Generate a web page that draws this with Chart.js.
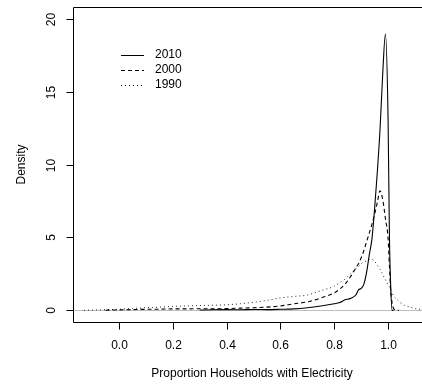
<!DOCTYPE html>
<html>
<head>
<meta charset="utf-8">
<script src="https://cdn.jsdelivr.net/npm/chart.js@4.4.0/dist/chart.umd.min.js"></script>
<style>
    html, body { margin: 0; padding: 0; background: #ffffff; }
    #wrap { width: 422px; height: 385px; }
</style>
</head>
<body>
<div id="wrap"><canvas id="density-chart"></canvas></div>
<script>
// x grid (proportion) shared by the three density curves
var xs = [-0.13, -0.10, -0.05, 0.00, 0.05, 0.10, 0.15, 0.20, 0.25, 0.30, 0.35, 0.40, 0.45, 0.50, 0.55,
    0.60, 0.65, 0.70, 0.75, 0.80, 0.82, 0.84, 0.86, 0.88, 0.89, 0.90, 0.91, 0.92, 0.93, 0.94, 0.95,
    0.96, 0.97, 0.98, 0.99, 1.00, 1.005, 1.01, 1.015, 1.02, 1.03, 1.04, 1.06, 1.08, 1.10, 1.12];

var d2010 = [null, null, null, null, null, null, null, null, null, 0.02, 0.04, 0.05, 0.04, 0.06, 0.05,
    0.07, 0.10, 0.18, 0.30, 0.45, 0.53, 0.72, 0.82, 1.05, 1.40, 1.50, 1.80, 2.60, 3.80, 4.90, 7.00,
    9.50, 12.4, 16.2, 18.95, 13.0, 5.0, 1.5, 0.0, 0.0, null, null, null, null, null, null];

var d2000 = [null, null, 0.01, 0.03, 0.05, 0.07, 0.08, 0.10, 0.10, 0.11, 0.10, 0.12, 0.15, 0.18, 0.22,
    0.30, 0.45, 0.58, 0.85, 1.20, 1.45, 1.80, 2.30, 2.90, 3.20, 3.60, 4.10, 4.70, 5.30, 5.90, 6.60,
    7.40, 8.20, 7.60, 6.30, 4.90, 3.00, 1.30, 0.50, 0.15, 0.02, 0.0, null, null, null, null];

var d1990 = [0.0, 0.02, 0.04, 0.07, 0.12, 0.18, 0.22, 0.27, 0.30, 0.33, 0.35, 0.38, 0.45, 0.55, 0.68,
    0.85, 0.95, 1.05, 1.35, 1.65, 1.90, 2.15, 2.50, 2.85, 3.00, 3.20, 3.30, 3.40, 3.48, 3.50, 3.35,
    3.10, 2.80, 2.45, 2.10, 1.75, 1.60, 1.40, 1.20, 1.00, 0.80, 0.62, 0.35, 0.24, 0.12, 0.07];

var xTicks = [0.0, 0.2, 0.4, 0.6, 0.8, 1.0];
var yTicks = [0, 5, 10, 15, 20];
var seriesNames = ["2010", "2000", "1990"];

var FONT = "12px 'Liberation Sans', Arial, sans-serif";

function toPoints(values) {
    var pts = [];
    for (var i = 0; i < xs.length; i++) {
        pts.push({ x: xs[i], y: values[i] });
    }
    return pts;
}

// R style box, axes, zero line and legend
var rAxesPlugin = {
    id: 'rAxes',
    beforeDatasetsDraw: function (chart) {
        var ctx = chart.ctx;
        var a = chart.chartArea;
        var y0 = Math.round(chart.scales.y.getPixelForValue(0)) + 0.5;
        ctx.save();
        ctx.strokeStyle = '#bebebe';
        ctx.lineWidth = 1;
        ctx.beginPath();
        ctx.moveTo(a.left, y0);
        ctx.lineTo(a.right, y0);
        ctx.stroke();
        ctx.restore();
    },
    afterDraw: function (chart) {
        var ctx = chart.ctx;
        var a = chart.chartArea;
        var xs_ = chart.scales.x;
        var ys_ = chart.scales.y;
        var left = Math.round(a.left) + 0.5;
        var top = Math.round(a.top) + 0.5;
        var bottom = Math.round(a.bottom) + 0.5;

        ctx.save();
        ctx.strokeStyle = '#000';
        ctx.lineWidth = 1;
        ctx.setLineDash([]);
        ctx.beginPath();
        ctx.moveTo(a.right + 2, top);
        ctx.lineTo(left, top);
        ctx.lineTo(left, bottom);
        ctx.lineTo(a.right + 2, bottom);
        ctx.stroke();

        ctx.fillStyle = '#000';
        ctx.font = FONT;

        // x ticks
        ctx.textAlign = 'center';
        ctx.textBaseline = 'middle';
        for (var i = 0; i < xTicks.length; i++) {
            var px = Math.round(xs_.getPixelForValue(xTicks[i])) + 0.5;
            ctx.beginPath();
            ctx.moveTo(px, bottom);
            ctx.lineTo(px, bottom + 7);
            ctx.stroke();
            ctx.fillText(xTicks[i].toFixed(1), px, 346);
        }
        ctx.fillText("Proportion Households with Electricity", 252, 374);

        // y ticks, labels rotated like R
        for (var j = 0; j < yTicks.length; j++) {
            var py = Math.round(ys_.getPixelForValue(yTicks[j])) + 0.5;
            ctx.beginPath();
            ctx.moveTo(left, py);
            ctx.lineTo(left - 7, py);
            ctx.stroke();
            ctx.save();
            ctx.translate(52, py);
            ctx.rotate(-Math.PI / 2);
            ctx.fillText(String(yTicks[j]), 0, 0);
            ctx.restore();
        }
        ctx.save();
        ctx.translate(22, ys_.getPixelForValue(10));
        ctx.rotate(-Math.PI / 2);
        ctx.fillText("Density", 0, 0);
        ctx.restore();

        // legend
        var dashes = [[], [4, 3], [1, 3]];
        var ly = [55, 70, 85];
        ctx.textAlign = 'left';
        for (var k = 0; k < seriesNames.length; k++) {
            ctx.setLineDash(dashes[k]);
            ctx.beginPath();
            ctx.moveTo(121, ly[k] + 0.5);
            ctx.lineTo(144, ly[k] + 0.5);
            ctx.stroke();
            ctx.setLineDash([]);
            ctx.fillText(seriesNames[k], 155, ly[k]);
        }
        ctx.restore();
    }
};

function createChartDensity() {
    var ctx = document.getElementById("density-chart").getContext("2d");

    var myChart = new Chart(ctx, {
        type: 'line',
        data: {
            datasets: [
                {
                    label: seriesNames[0],
                    data: toPoints(d2010),
                    borderColor: '#000',
                    borderWidth: 1.1
                }, {
                    label: seriesNames[1],
                    data: toPoints(d2000),
                    borderColor: '#000',
                    borderWidth: 1.1,
                    borderDash: [4, 3]
                }, {
                    label: seriesNames[2],
                    data: toPoints(d1990),
                    borderColor: '#222',
                    borderWidth: 1,
                    borderDash: [1, 3]
                }
            ]
        },
        options: {
            animation: false,
            responsive: true,
            maintainAspectRatio: false,
            layout: {
                padding: { left: 73, right: 0, top: 7, bottom: 63 }
            },
            elements: {
                point: { radius: 0 },
                line: { tension: 0, cubicInterpolationMode: 'monotone', fill: false }
            },
            plugins: {
                legend: { display: false },
                tooltip: { enabled: false }
            },
            scales: {
                x: {
                    type: 'linear',
                    min: -0.171,
                    max: 1.126,
                    display: false
                },
                y: {
                    min: -0.8,
                    max: 20.8,
                    display: false
                }
            }
        },
        plugins: [rAxesPlugin]
    });
}

createChartDensity();
</script>
</body>
</html>
